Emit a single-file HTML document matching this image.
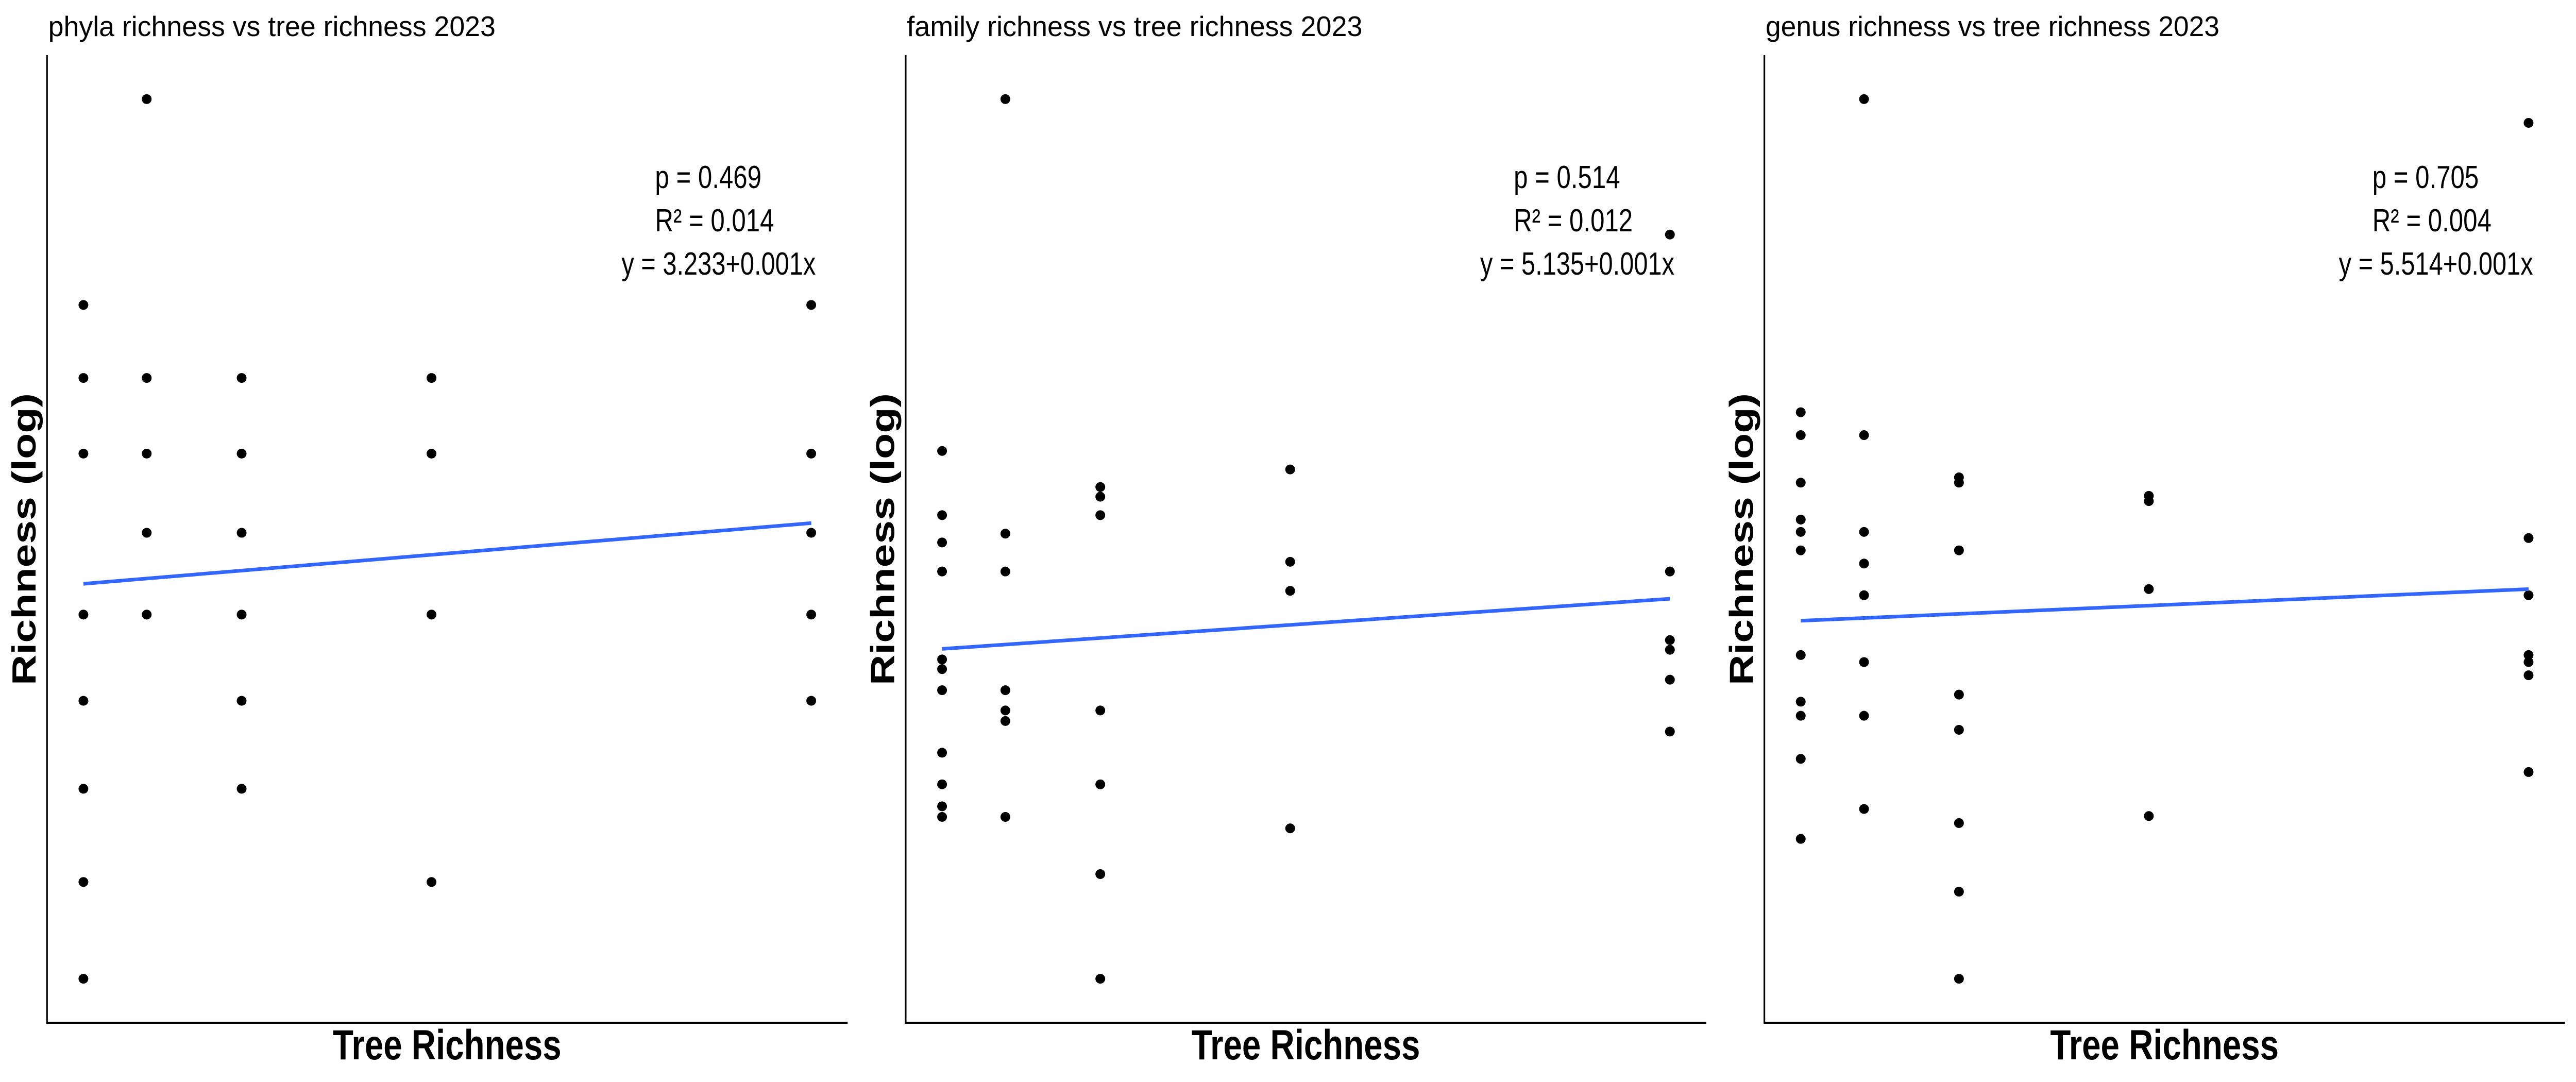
<!DOCTYPE html>
<html><head><meta charset="utf-8"><style>
html,body{margin:0;padding:0;background:#fff;overflow:hidden;width:100%;height:100%;}
svg{display:block;width:100vw;height:100vh;}
text{font-family:"Liberation Sans",Arial,sans-serif;fill:#000;}
</style></head><body>
<svg id="chart" viewBox="0 0 6300 2100" preserveAspectRatio="none" xmlns="http://www.w3.org/2000/svg"></svg>
<script>
// Shared x categories (tree richness)
const treeRichness = [4, 5, 6.5, 9.5, 15.5];
// Panel titles
const panelTitles = ["phyla richness vs tree richness 2023","family richness vs tree richness 2023","genus richness vs tree richness 2023"];
const pValues = ["0.469","0.514","0.705"];
const r2Values = ["0.014","0.012","0.004"];
const equations = ["y = 3.233+0.001x","y = 5.135+0.001x","y = 5.514+0.001x"];
// Series: one list of y values per tree-richness column (log richness index)
const phylaY = [
  [76.6,68.3,59.7,41.4,31.6,21.6,11.0,0],
  [100,68.3,59.7,50.7,41.4],
  [68.3,59.7,50.7,41.4,31.6,21.6],
  [68.3,59.7,41.4,11.0],
  [76.6,59.7,50.7,41.4,31.6]
];
const familyY = [
  [60.0,52.7,49.6,46.3,36.3,35.2,32.8,25.7,22.1,19.6,18.4],
  [100,50.6,46.3,32.8,30.5,29.3,18.4],
  [55.9,54.8,52.7,30.5,22.1,11.9,0],
  [57.9,47.4,44.1,17.1],
  [84.6,46.3,38.5,37.4,34.0,28.1]
];
const genusY = [
  [64.4,61.8,56.4,52.2,50.8,48.7,36.8,31.5,29.9,25.0,15.9],
  [100,61.8,50.8,47.2,43.6,36.0,29.9,19.3],
  [57.0,56.4,48.7,32.3,28.3,17.7,9.9,0],
  [54.9,54.3,44.3,18.5],
  [97.3,50.1,43.6,36.8,36.0,34.5,23.5]
];
// Fitted line values at min and max tree richness
const fitStart = [44.9,37.5,40.7];
const fitEnd = [51.8,43.2,44.3];
const series = [phylaY, familyY, genusY];

const NS = "http://www.w3.org/2000/svg";
const svg = document.getElementById('chart');
function mk(tag, attrs, parent){
  const e = document.createElementNS(NS, tag);
  for (const k in attrs) e.setAttribute(k, attrs[k]);
  (parent||svg).appendChild(e);
  return e;
}
const sx = (window.innerWidth||6300)/6300, sy = (window.innerHeight||2100)/2100;
const aspectFix = sy/sx;
const xMin = Math.min(...treeRichness), xMax = Math.max(...treeRichness);
const pl = 115, pr = 2073, pt = 107, pb = 1985;
function xScale(v){ const pad=(xMax-xMin)*0.05; return pl + (v-(xMin-pad))/((xMax-xMin)*1.1)*(pr-pl); }
function yScale(v){ const lo=0, hi=100, pad=(hi-lo)*0.05; return pb - (v-(lo-pad))/((hi-lo)*1.1)*(pb-pt); }

for (let p=0;p<3;p++){
  const g = mk('g',{transform:'translate('+(p*2100)+',0)'});
  
  
  const title = mk('text',{x:118,y:70,'font-size':55,textLength:[1094,1114,1110][p],lengthAdjust:'spacingAndGlyphs'},g);
  
  
  title.textContent = panelTitles[p];
  const ya = mk('line',{x1:pl,y1:pt,x2:pl,y2:pb,stroke:'#000','stroke-width':4},g);
  
  
  const xa = mk('line',{x1:pl-2,y1:pb,x2:pr,y2:pb,stroke:'#000','stroke-width':4},g);
  
  
  const data = series[p];
  for (let i=0;i<treeRichness.length;i++){
    for (const v of data[i]){
      const c = mk('ellipse',{cx:xScale(treeRichness[i]),cy:yScale(v),rx:9.5*aspectFix,ry:9.5,fill:'#000'},g);
      
      
    }
  }
  const fl = mk('line',{x1:xScale(xMin),y1:yScale(fitStart[p]),x2:xScale(xMax),y2:yScale(fitEnd[p]),stroke:'#3366FF','stroke-width':7},g);
  
  
  const t1 = mk('text',{x:1602,y:365,'font-size':62},g);
  
  
  t1.textContent = 'p = '+pValues[p];
  const t2 = mk('text',{x:1602,y:449,'font-size':62},g);
  
  
  t2.textContent = 'R² = '+r2Values[p];
  const t3 = mk('text',{x:1520,y:533,'font-size':62,textLength:475,lengthAdjust:'spacingAndGlyphs'},g);
  
  
  t3.textContent = equations[p];
  const xt = mk('text',{x:814,y:2056,'font-size':82,'font-weight':'bold',textLength:559,lengthAdjust:'spacingAndGlyphs'},g);
  
  
  xt.textContent = 'Tree Richness';
  const yt = mk('text',{x:0,y:0,'font-size':82,'font-weight':'bold',textLength:567,lengthAdjust:'spacingAndGlyphs',transform:'translate(87,1330) rotate(-90)'},g);
  
  
  yt.textContent = 'Richness (log)';
}
</script>
</body></html>
